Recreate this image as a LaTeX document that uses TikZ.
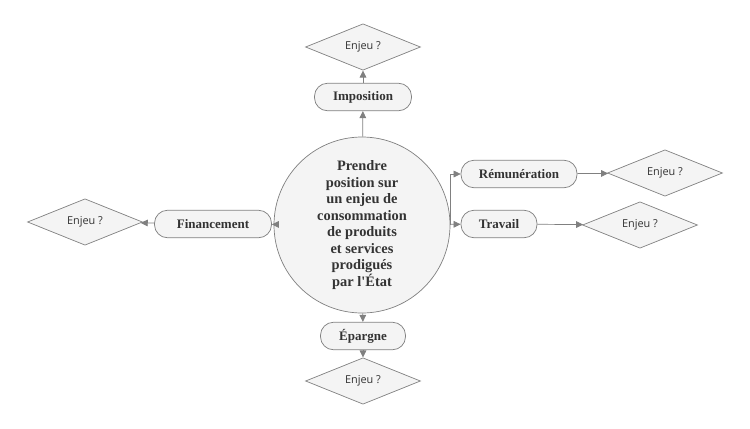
\documentclass[tikz,border=0pt]{standalone}
\usepackage{fontspec}
\setmainfont{Liberation Serif}[Ligatures=TeXOff]
\newfontfamily\enjeufont{Open Sans}
\usepackage{tikz}
\usetikzlibrary{shapes.geometric, positioning, arrows.meta}

\definecolor{linegray}{HTML}{808080}
\definecolor{boxfill}{HTML}{F4F4F4}
\definecolor{txtgray}{HTML}{333333}

\tikzset{
    pivot/.style={circle, draw=linegray, fill=boxfill, minimum size=3.52cm, inner sep=0pt,
        align=center, text=txtgray, font=\fontsize{8.2}{9.4}\selectfont\bfseries},
    theme/.style={rectangle, rounded corners=2.6mm, draw=linegray, fill=boxfill, minimum height=0.55cm,
        inner sep=0pt, text=txtgray, font=\fontsize{7.4}{8}\selectfont\bfseries},
    enjeu/.style={diamond, draw=linegray, fill=boxfill, minimum width=2.3cm, minimum height=0.84cm,
        inner sep=0pt, text=txtgray, font=\enjeufont\fontsize{6.2}{7}\selectfont},
}

\begin{document}
\begin{tikzpicture}[->, >={Triangle[length=4pt, width=3.8pt]}, thin]
    \useasboundingbox (0,0) rectangle (15,8.56);
    \node[pivot] (etat) at (7.24,4.06) {Prendre\\position sur\\un enjeu de\\consommation\\de produits\\et services\\prodigués\\par l'État};

    \node[theme, minimum width=1.94cm] (impo) at (7.26,6.62) {Imposition};
    \node[enjeu] (e1) at (7.26,7.62) {Enjeu ?};
    \node[theme, minimum width=1.7cm] (epar) at (7.26,1.84) {Épargne};
    \node[enjeu] (e2) at (7.26,0.94) {Enjeu ?};
    \node[theme, minimum width=2.34cm] (fin) at (4.26,4.08) {Financement};
    \node[enjeu, minimum height=0.88cm] (e3) at (1.7,4.12) {Enjeu ?};
    \node[theme, minimum width=2.32cm] (remu) at (10.38,5.08) {Rémunération};
    \node[enjeu, minimum height=0.82cm] (e4) at (13.3,5.1) {Enjeu ?};
    \node[theme, minimum width=1.52cm] (trav) at (9.98,4.08) {Travail};
    \node[enjeu, minimum height=0.88cm] (e5) at (12.8,4.06) {Enjeu ?};

    \draw[linegray] (etat) -- (impo);
    \draw[linegray] (impo) -- (e1);
    \draw[linegray] (etat) -- (epar);
    \draw[linegray] (epar) -- (e2);
    \draw[linegray] (etat) -- (fin);
    \draw[linegray] (fin) -- (e3);
    \draw[linegray] (etat.east) |- (remu.west);
    \draw[linegray] (remu) -- (e4);
    \draw[linegray] (etat) -- (trav);
    \draw[linegray] (trav) -- (e5);
\end{tikzpicture}
\end{document}
